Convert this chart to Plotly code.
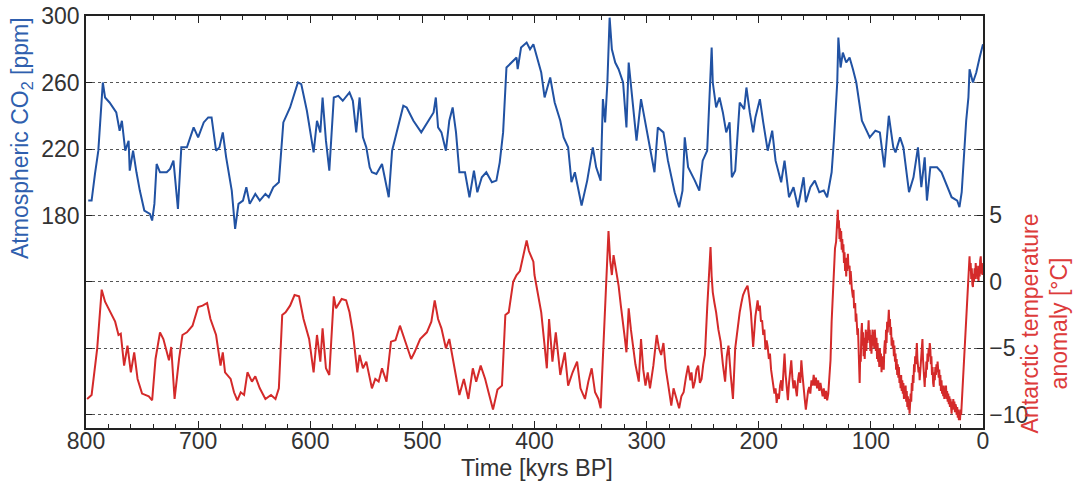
import plotly.graph_objects as go

# ---------------- data ----------------
co2_age = [798, 795, 792, 789, 785, 783, 779, 776, 773, 770, 768, 765, 762, 761, 758, 755, 752, 748, 743, 741,
           739, 737, 734, 728, 725, 722, 718, 715, 710, 704, 700, 695, 691, 688, 684, 681, 678, 675, 670, 667,
           664, 660, 657, 654, 649, 645, 640, 637, 633, 628, 624, 618, 614, 611, 608, 603, 597, 594, 591, 589,
           586, 583, 579, 575, 571, 565, 562, 559, 556, 553, 550, 547, 545, 541, 536, 530, 527, 523, 517, 514,
           508, 501, 495, 490, 488, 486, 483, 479, 476, 473, 470, 467, 462, 458, 454, 451, 447, 443, 438, 434,
           431, 428, 425, 420, 416, 415, 412, 407, 404, 401, 397, 394, 391, 386, 382, 377, 374, 370, 367, 364,
           358, 353, 348, 345, 341, 339, 337, 335, 333, 331, 328, 325, 321, 318, 316, 313, 309, 305, 302, 296,
           293, 290, 285, 281, 275, 271, 268, 266, 263, 257, 253, 250, 246, 242, 241, 238, 235, 232, 229, 226,
           224, 221, 217, 213, 211, 208, 205, 203, 199, 196, 192, 188, 185, 180, 177, 173, 169, 165, 160, 158,
           154, 150, 146, 142, 139, 135, 133, 130, 129, 127, 125, 122, 119, 116, 113, 108, 105, 101, 96, 92,
           88, 84, 80, 78, 74, 71, 66, 62, 58, 55, 52, 50, 47, 41, 37, 32, 28, 23, 21, 19,
           17, 15, 13, 12, 9, 6, 3, 1, 0]
co2_ppm = [189, 189, 205, 219, 260, 251, 248, 245, 242, 231, 237, 219, 225, 207, 219, 206, 195, 183, 181, 177,
           187, 211, 206, 206, 208, 213, 184, 221, 221, 233, 227, 236, 239, 239, 219, 221, 230, 215, 195, 172,
           187, 189, 197, 187, 193, 189, 193, 191, 197, 200, 236, 245, 254, 260, 259, 243, 218, 237, 230, 251,
           225, 207, 251, 252, 249, 254, 249, 230, 251, 227, 221, 209, 206, 205, 211, 191, 219, 230, 246, 245,
           237, 230, 237, 242, 251, 233, 230, 219, 237, 245, 230, 206, 206, 191, 207, 194, 203, 206, 200, 201,
           212, 230, 269, 272, 275, 268, 281, 284, 280, 283, 274, 266, 251, 263, 248, 237, 227, 221, 200, 206,
           186, 201, 221, 209, 201, 250, 236, 260, 299, 280, 272, 268, 260, 233, 272, 250, 225, 250, 239, 215,
           206, 233, 230, 213, 194, 185, 195, 227, 209, 201, 195, 213, 219, 281, 260, 245, 251, 242, 230, 236,
           203, 207, 248, 244, 257, 242, 230, 239, 250, 236, 219, 231, 213, 200, 213, 191, 197, 185, 203, 188,
           197, 201, 194, 195, 191, 206, 225, 260, 287, 269, 278, 272, 275, 268, 260, 237, 233, 227, 231, 230,
           209, 240, 221, 218, 227, 221, 194, 203, 221, 197, 215, 189, 209, 209, 206, 197, 191, 189, 185, 194,
           219, 237, 251, 268, 260, 266, 275, 281, 283]

temp_age = [799, 795, 790, 786, 783, 778, 774, 771, 769, 766, 763, 760, 757, 754, 750, 744, 741, 738, 734, 731,
            726, 724, 721, 717, 714, 710, 705, 700, 696, 692, 689, 684, 680, 678, 676, 671, 668, 665, 662, 659,
            656, 652, 649, 645, 640, 635, 631, 628, 625, 622, 618, 614, 610, 606, 601, 597, 594, 591, 589, 586,
            583, 579, 577, 572, 568, 565, 562, 558, 556, 553, 550, 545, 542, 539, 536, 532, 528, 524, 520, 516,
            510, 507, 502, 496, 492, 489, 486, 483, 479, 476, 472, 467, 463, 459, 455, 452, 448, 444, 441, 437,
            433, 429, 426, 423, 419, 416, 413, 410, 407, 405, 403, 401, 400, 397, 394, 391, 389, 387, 384, 381,
            377, 373, 370, 366, 362, 359, 355, 352, 349, 346, 343, 341, 338, 334, 332.5, 331, 329.5, 328, 326.5, 325,
            323, 321, 319.5, 318, 316, 314, 312, 310, 307, 305, 303, 301, 299, 297, 294, 291, 289, 287, 285, 283,
            281, 278, 276, 273, 271, 269, 267, 265, 263, 261, 260, 258.5, 257, 255.5, 254, 252.5, 251, 249.5, 248, 246,
            243, 242, 241, 239.5, 238, 236, 234, 232, 230, 228.5, 227, 225, 223, 221, 219, 217, 215.5, 214, 212, 210,
            208.5, 207, 205, 203, 201, 200, 199, 198, 197, 196, 195, 194, 193, 192, 191, 190, 189, 188, 187, 186,
            185, 184, 183, 182, 181, 180, 179, 178, 177, 176, 175, 174, 173, 172, 171, 170, 169, 168, 167, 166,
            165, 164, 163, 162, 161, 160, 159, 158, 157, 156, 155, 154, 153, 152, 151, 150, 149, 148, 147, 146,
            145, 144, 143, 142, 141, 140, 139, 138, 137, 136, 135, 134, 133, 132, 131, 130, 129.5, 129, 128.5, 128,
            127.5, 127, 126.5, 126, 125.5, 125, 124.5, 124, 123.5, 123, 122.5, 122, 121.5, 121, 120.5, 120, 119, 118.5, 118, 117,
            116, 115.5, 115, 114, 113.5, 113, 112, 111.5, 111, 110.5, 110, 109.5, 109, 108.5, 108, 107.5, 107, 106.5, 106, 105.5,
            105, 104.5, 104, 103.5, 103, 102.5, 102, 101.5, 101, 100.5, 100, 99.5, 99, 98.5, 98, 97.5, 97, 96.5, 96, 95.5,
            95, 94.5, 94, 93.5, 93, 92.5, 92, 91.5, 91, 90.5, 90, 89.5, 89, 88.5, 88, 87.5, 87, 86.5, 86, 85.5,
            85, 84.5, 84, 83.5, 83, 82.5, 82, 81.5, 81, 80.5, 80, 79.5, 79, 78.5, 78, 77.5, 77, 76.5, 76, 75.5,
            75, 74.5, 74, 73.5, 73, 72.5, 72, 71.5, 71, 70.5, 70, 69.5, 69, 68.5, 68, 67.5, 67, 66.5, 66, 65.5,
            65, 64.5, 64, 63.5, 63, 62.5, 62, 61.5, 61, 60.5, 60, 59.5, 59, 58.5, 58, 57.5, 57, 56.5, 56, 55.5,
            55, 54.5, 54, 53.5, 53, 52.5, 52, 51.5, 51, 50.5, 50, 49.5, 49, 48.5, 48, 47.5, 47, 46.5, 46, 45.5,
            45, 44.5, 44, 43.5, 43, 42.5, 42, 41.5, 41, 40.5, 40, 39.5, 39, 38.5, 38, 37.5, 37, 36.5, 36, 35.5,
            35, 34.5, 34, 33.5, 33, 32.5, 32, 31.5, 31, 30.5, 30, 29.5, 29, 28.5, 28, 27.5, 27, 26.5, 26, 25.5,
            25, 24.5, 24, 23.5, 23, 22.5, 22, 21.5, 21, 20.5, 20, 19.5, 19, 18.5, 18, 17.5, 17, 16.5, 16, 15.5,
            15, 14.5, 14, 13.5, 13, 12.5, 12, 11.5, 11, 10.5, 10, 9.5, 9, 8.5, 8, 7.5, 7, 6.5, 6, 5.5,
            5, 4.5, 4, 3.5, 3, 2.5, 2, 1.5, 1, 0.5, 0]
temp_anom = [-8.8, -8.5, -5.0, -0.6, -1.5, -2.3, -3.0, -4.0, -3.9, -6.3, -4.8, -6.8, -5.3, -7.3, -8.4, -8.6, -8.9, -5.8, -3.8, -4.3,
             -5.9, -4.9, -8.8, -5.8, -4.0, -3.8, -3.3, -1.9, -1.8, -1.6, -2.8, -4.0, -6.3, -5.3, -6.8, -7.3, -8.3, -8.9, -8.3, -8.5,
             -6.8, -7.5, -7.1, -8.0, -8.8, -8.5, -8.8, -8.0, -2.5, -2.3, -1.8, -1.0, -1.1, -2.8, -4.3, -6.8, -4.0, -6.0, -3.5, -6.5,
             -7.0, -1.1, -2.0, -1.3, -1.4, -2.3, -3.8, -6.8, -5.5, -6.5, -6.0, -8.0, -7.3, -7.5, -6.5, -7.5, -4.5, -4.4, -3.3, -4.3,
             -5.8, -5.3, -4.3, -3.8, -3.0, -1.4, -2.8, -3.5, -5.0, -4.3, -6.3, -8.5, -7.3, -8.8, -6.5, -7.5, -6.3, -7.3, -8.3, -9.6,
             -8.1, -7.8, -2.5, -2.3, 0.0, 0.5, 0.8, 2.0, 3.1, 2.3, 1.9, 1.5, 0.5, -1.0, -2.3, -4.8, -6.5, -2.8, -6.0, -3.8,
             -7.0, -5.3, -7.8, -6.8, -6.0, -8.0, -8.8, -7.5, -6.5, -8.3, -8.8, -9.5, -4.0, 3.8, 1.6, 0.5, 2.0, 1.3, 0.4, -0.3,
             -1.8, -3.0, -4.2, -5.3, -2.0, -3.6, -5.0, -6.2, -7.5, -4.3, -6.6, -7.8, -6.8, -8.0, -6.3, -4.0, -5.0, -5.5, -4.6, -6.5,
             -7.6, -9.3, -8.0, -8.8, -9.5, -8.6, -8.3, -7.2, -6.3, -7.4, -6.8, -8.0, -7.5, -6.6, -6.3, -7.6, -7.3, -6.2, -5.5, -2.0,
             2.6, 0.4, -0.8, -1.6, -2.3, -3.6, -4.5, -6.2, -7.5, -5.6, -4.8, -7.0, -8.8, -5.0, -3.4, -2.3, -1.6, -1.0, -0.6, -0.3,
             -1.2, -2.3, -4.9, -2.6, -1.4, -2.2, -1.8, -3.0, -2.9, -4.0, -3.6, -5.1, -4.4, -4.9, -5.8, -5.4, -6.6, -7.1, -7.8, -8.4,
             -8.0, -9.1, -8.4, -8.8, -7.8, -7.4, -8.2, -6.6, -5.4, -7.0, -8.2, -8.9, -7.6, -6.8, -5.9, -7.2, -8.0, -7.4, -8.2, -8.6,
             -7.4, -6.8, -7.6, -5.9, -7.0, -8.2, -8.8, -9.6, -8.6, -8.2, -7.9, -8.4, -7.4, -7.8, -7.0, -7.8, -7.2, -8.0, -7.4, -8.2,
             -7.6, -8.1, -8.6, -8.0, -8.8, -8.2, -8.9, -8.4, -7.2, -5.9, -3.0, -1.0, 1.1, 2.5, 3.0, 4.2, 5.4, 4.0, 4.6, 3.2,
             4.0, 3.0, 3.8, 2.4, 3.2, 2.2, 2.8, 1.4, 2.2, 0.8, 1.6, 0.4, 1.8, 0.8, 2.1, 1.0, 1.2, -0.2, 0.8, -0.5,
             -1.2, -0.6, -2.0, -1.6, -3.0, -2.4, -4.0, -3.5, -5.6, -6.8, -7.6, -5.5, -6.0, -3.8, -3.1, -4.8, -3.8, -5.6, -4.2, -5.8,
             -4.6, -3.6, -5.2, -3.8, -4.6, -3.0, -2.9, -4.4, -3.6, -5.2, -4.0, -5.4, -4.4, -3.6, -4.8, -3.8, -5.0, -3.6, -4.4, -5.2,
             -4.2, -5.8, -4.6, -6.0, -5.2, -6.4, -5.0, -6.2, -5.4, -6.8, -5.6, -6.6, -5.8, -6.6, -5.0, -4.4, -5.4, -3.6, -4.6, -3.0,
             -3.8, -2.4, -2.1, -3.4, -2.8, -4.0, -3.4, -4.8, -4.2, -5.0, -4.4, -5.6, -4.8, -6.0, -5.4, -6.6, -5.8, -7.0, -6.2, -7.2,
             -6.4, -7.6, -7.0, -8.0, -7.0, -8.2, -7.4, -8.4, -7.6, -8.8, -8.0, -8.6, -7.8, -9.0, -8.2, -9.4, -8.6, -9.6, -8.8, -9.9,
             -9.2, -8.4, -9.0, -7.6, -8.2, -7.0, -7.6, -6.2, -6.8, -5.6, -6.2, -4.8, -4.6, -5.8, -6.2, -6.8, -6.4, -7.4, -6.8, -6.0,
             -5.2, -4.4, -4.3, -5.8, -6.6, -7.6, -7.9, -6.8, -7.2, -6.0, -6.6, -5.4, -6.0, -5.0, -5.6, -4.6, -5.0, -6.2, -5.6, -7.0,
             -6.4, -7.6, -7.9, -6.8, -7.4, -6.4, -7.0, -6.2, -6.8, -6.0, -6.6, -7.2, -6.6, -7.8, -7.0, -8.2, -7.4, -8.4, -7.8, -8.6,
             -7.8, -8.8, -8.0, -8.6, -7.8, -8.8, -8.2, -9.0, -8.4, -9.2, -8.6, -9.4, -8.8, -9.6, -9.9, -9.0, -9.6, -8.8, -9.4, -9.0,
             -9.8, -9.2, -9.4, -10.0, -9.4, -10.2, -9.6, -10.4, -9.8, -10.4, -9.6, -10.0, -9.2, -8.6, -7.9, -6.8, -5.8, -5.4, -4.6, -3.4,
             -2.8, -2.0, -1.4, -0.6, 0.4, 1.2, 1.9, 0.8, 1.4, 0.2, 1.0, -0.2, -0.4, 0.6, 0.0, 1.0, 0.2, 1.4, 0.4, 1.2,
             0.2, 0.8, 0.0, 1.2, 0.4, 1.6, 1.9, 0.6, 1.4, 0.5, 1.0]

x_ticks = [800, 700, 600, 500, 400, 300, 200, 100, 0]
co2_ticks = [180, 220, 260, 300]
temp_ticks = [-10, -5, 0, 5]

assert len(co2_age) == len(co2_ppm), (len(co2_age), len(co2_ppm))
assert len(temp_age) == len(temp_anom), (len(temp_age), len(temp_anom))

# ---------------- styling ----------------
BLUE = "#2152a3"
RED = "#d42a2a"
FONT = "Liberation Sans, Arial, Helvetica, sans-serif"
AX = "#222222"
TXT = "#333333"

fig = go.Figure()
fig.add_trace(go.Scatter(x=co2_age, y=co2_ppm, mode="lines",
                         line=dict(color=BLUE, width=2), yaxis="y", showlegend=False))
fig.add_trace(go.Scatter(x=temp_age, y=temp_anom, mode="lines",
                         line=dict(color=RED, width=2), yaxis="y2", showlegend=False))

fig.update_layout(
    width=1080, height=481,
    margin=dict(l=86, r=97, t=16, b=53, autoexpand=False),
    paper_bgcolor="white", plot_bgcolor="white",
    font=dict(family=FONT, size=23, color=TXT),
    xaxis=dict(range=[800, 0], tickvals=x_ticks, ticks="inside", ticklen=7, tickwidth=1.2,
               tickcolor=AX, showline=True, linecolor=AX, linewidth=1.5, mirror="ticks",
               showgrid=False, zeroline=False, automargin=False, ticklabelstandoff=-8,
               minor=dict(ticks="inside", dtick=20, ticklen=4, tickcolor=AX, tickwidth=1),
               tickfont=dict(size=23, color=TXT)),
    yaxis=dict(range=[52.2, 300], tickvals=co2_ticks, ticks="inside", ticklen=6, tickwidth=1.2,
               tickcolor=AX, showline=True, linecolor=AX, linewidth=1.5, mirror="ticks",
               showgrid=True, gridcolor="#555555", gridwidth=1.2, griddash="dot",
               zeroline=False, automargin=False, tickfont=dict(size=23, color=TXT)),
    yaxis2=dict(range=[-10.98, 19.94], tickvals=temp_ticks, overlaying="y", side="right",
                ticks="inside", ticklen=6, tickwidth=1.2, tickcolor=AX,
                showline=True, linecolor=AX, linewidth=1.5, mirror="ticks",
                showgrid=True, gridcolor="#555555", gridwidth=1.2, griddash="dot",
                zeroline=False, automargin=False, tickfont=dict(size=23, color=TXT)),
    annotations=[
        dict(text="Atmospheric CO<sub>2</sub> [ppm]", xref="paper", yref="paper",
             x=-0.0713, y=0.704, xanchor="center", yanchor="middle", textangle=-90, showarrow=False,
             font=dict(size=23, color="#2f5fae", family=FONT)),
        dict(text="Antarctic temperature<br>anomaly [°C]", xref="paper", yref="paper",
             x=1.0685, y=0.255, xanchor="center", yanchor="middle", textangle=-90, showarrow=False,
             font=dict(size=23, color="#dd3b3b", family=FONT)),
        dict(text="Time [kyrs BP]", xref="paper", yref="paper",
             x=0.5028, y=-0.0965, xanchor="center", yanchor="middle", showarrow=False,
             font=dict(size=23.5, color=TXT, family=FONT)),
    ],
)

fig.write_html("out.html", config={"displayModeBar": False},
               post_script="document.body.style.margin='0px';")
